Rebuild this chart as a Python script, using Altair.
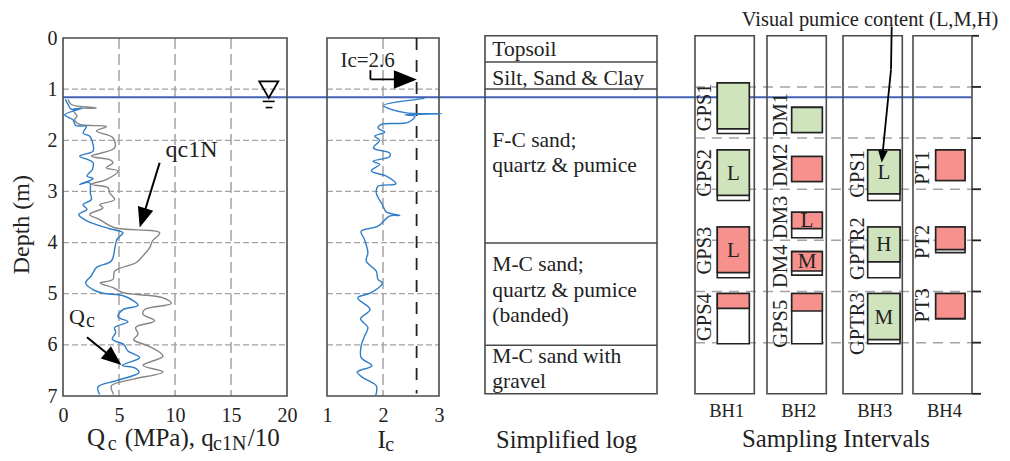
import altair as alt
import pandas as pd

SERIF = "Liberation Serif"
INK = "#222222"
FRAME = "#4a4a4a"
GRID = "#a3a3a3"
BLUE_CURVE = "#2f7cc9"
GRAY_CURVE = "#858585"
WATER = "#4262b4"
GREEN = "#cfe3bd"
RED = "#f6918d"
HEAD = "M0,-1 L0.8,1 L-0.8,1 Z"

# Cone resistance Qc (MPa) against depth (m)
qc_depth = [1.20,1.30,1.39,1.37,1.50,1.60,1.71,1.73,1.86,1.92,2.08,2.21,2.31,2.38,2.44,2.57,2.70,2.75,2.86,2.83,3.03,3.16,3.26,3.35,3.45,3.55,3.65,3.73,3.81,3.91,3.97,4.13,4.36,4.49,4.65,4.79,4.92,4.99,5.05,5.23,5.31,5.45,5.55,5.66,5.76,5.89,5.99,6.12,6.25,6.40,6.45,6.54,6.70,6.82,6.97]
qc_value = [0.21,0.45,0.74,1.73,0.15,0.89,1.13,2.08,1.79,2.38,2.68,2.68,1.49,2.23,2.68,2.62,2.14,2.68,1.49,2.38,2.44,2.53,1.79,2.14,1.40,1.93,2.98,4.17,5.36,4.91,4.76,4.61,4.32,2.98,2.53,2.02,2.68,3.57,5.51,6.70,5.36,4.91,5.80,4.61,4.70,4.40,5.42,5.80,6.85,5.30,6.40,6.79,4.76,3.13,3.27]
# Normalised resistance qc1N / 10 against depth (m)
q1n_depth = [1.20,1.30,1.37,1.40,1.53,1.60,1.69,1.73,1.82,1.95,2.15,2.31,2.38,2.44,2.54,2.60,2.77,2.86,2.93,3.03,3.16,3.26,3.32,3.45,3.55,3.71,3.81,3.97,4.10,4.26,4.39,4.56,4.72,4.79,4.88,4.98,5.08,5.19,5.31,5.40,5.53,5.66,5.79,5.90,6.02,6.22,6.40,6.53,6.67,6.80,6.97]
q1n_value = [0.45,0.74,2.98,0.89,1.25,1.04,1.49,3.87,2.98,4.46,4.61,2.53,4.17,4.46,3.87,4.91,3.87,2.53,4.02,4.17,4.61,3.27,3.57,2.38,3.27,4.61,8.63,7.98,7.74,7.14,6.55,4.61,4.46,3.33,4.46,5.36,8.93,9.67,7.29,7.14,8.18,6.49,6.70,6.31,7.59,8.93,7.14,8.93,6.25,4.32,4.52]
# Soil behaviour index Ic against depth (m)
ic_depth = [1.18,1.20,1.32,1.46,1.48,1.50,1.53,1.65,1.69,1.76,1.84,1.92,2.00,2.15,2.25,2.32,2.41,2.47,2.60,2.70,2.85,2.90,3.03,3.26,3.40,3.47,3.48,3.68,3.78,3.94,4.20,4.36,4.56,4.72,4.79,4.98,5.08,5.31,5.49,5.66,5.83,6.02,6.25,6.41,6.53,6.64,6.80,6.99]
ic_value = [2.74,2.60,2.01,2.39,3.04,2.39,2.57,2.45,1.97,1.91,2.03,1.85,1.94,1.83,2.12,2.12,1.82,1.94,1.79,2.06,2.23,1.91,1.88,1.99,2.06,2.30,2.12,1.91,1.61,1.67,1.73,1.70,1.88,1.91,1.99,1.79,1.55,1.77,1.60,1.73,1.67,1.61,1.61,1.80,1.54,1.64,1.88,1.87]

depth_ticks = [0, 1, 2, 3, 4, 5, 6, 7]
grid_depths = [1, 2, 3, 4, 5, 6]
water_depth = 1.16

log_boundaries = [0, 0.51, 1.04, 4.05, 6.05, 7.0]
log_labels = ["Topsoil", "Silt, Sand & Clay", "F-C sand;", "quartz & pumice", "M-C sand;", "quartz & pumice", "(banded)", "M-C sand with", "gravel"]
log_label_depths = [0.40, 0.97, 2.18, 2.67, 4.60, 5.10, 5.59, 6.39, 6.89]

# Sampling intervals: name, top, bottom of recovered colour, bottom of tube, colour, pumice
BH1 = [("GPS1", 0.92, 1.82, 1.91, GREEN, "", 1.40), ("GPS2", 2.23, 3.12, 3.22, GREEN, "L", 2.68), ("GPS3", 3.74, 4.63, 4.73, RED, "L", 4.20), ("GPS4", 5.04, 5.33, 6.02, RED, "", 5.50)]
BH2 = [("DM1", 1.40, 1.89, 1.89, GREEN, "", 1.54), ("DM2", 2.36, 2.85, 2.85, RED, "", 2.53), ("DM3", 3.45, 3.77, 3.95, RED, "L", 3.55), ("DM4", 4.22, 4.60, 4.68, RED, "M", 4.51), ("GPS5", 5.04, 5.38, 6.02, RED, "", 5.63)]
BH3 = [("GPS1", 2.23, 3.09, 3.22, GREEN, "L", 2.70), ("GPTR2", 3.74, 4.42, 4.73, GREEN, "H", 4.16), ("GPTR3", 5.04, 5.94, 6.02, GREEN, "M", 5.63)]
BH4 = [("PT1", 2.23, 2.83, 2.83, RED, "", 2.58), ("PT2", 3.74, 4.18, 4.24, RED, "", 4.03), ("PT3", 5.04, 5.53, 5.53, RED, "", 5.27)]

H = 358


def xs(domain, rng):
    return alt.Scale(domain=domain, range=rng)


LEFT_Y = alt.Scale(domain=[0, 7], range=[0, H])
RIGHT_Y = alt.Scale(domain=[0, 7], range=[-2.2, H - 2.2])


def enc(xscale, yscale, **extra):
    e = {
        "x": alt.X("x:Q", scale=xscale, axis=None),
        "y": alt.Y("y:Q", scale=yscale, axis=None),
    }
    e.update(extra)
    return e


def text(rows, xscale, yscale, size, align="left", angle=0, baseline="alphabetic", color=INK):
    df = pd.DataFrame(rows, columns=["x", "y", "t"])
    return alt.Chart(df).mark_text(font=SERIF, fontSize=size, align=align, angle=angle, baseline=baseline, color=color).encode(**enc(xscale, yscale, text="t:N"))


def rules(rows, xscale, yscale, color, width, dash=None):
    df = pd.DataFrame(rows, columns=["x", "x2", "y", "y2"])
    kw = {"strokeDash": dash} if dash else {}
    return alt.Chart(df).mark_rule(color=color, strokeWidth=width, **kw).encode(**enc(xscale, yscale, x2="x2:Q", y2="y2:Q"))


def frame(x0, x1, top, bottom, xscale, yscale, stroke=FRAME, width=1.6, fill=None):
    df = pd.DataFrame({"x": [x0], "x2": [x1], "y": [top], "y2": [bottom]})
    kw = {"fill": fill} if fill else {"fillOpacity": 0}
    return alt.Chart(df).mark_rect(stroke=stroke, strokeWidth=width, **kw).encode(**enc(xscale, yscale, x2="x2:Q", y2="y2:Q"))


def head(x, y, xscale, yscale, size, angle):
    df = pd.DataFrame({"x": [x], "y": [y]})
    return alt.Chart(df).mark_point(shape=HEAD, filled=True, size=size, angle=angle, color="black", opacity=1).encode(**enc(xscale, yscale))


def curve(depth, value, xscale, yscale, color, width=1.4):
    df = pd.DataFrame({"x": value, "y": depth, "o": range(len(depth))})
    return alt.Chart(df).mark_line(color=color, strokeWidth=width, interpolate="catmull-rom").encode(**enc(xscale, yscale, order="o:Q"))


def x_axis_layer(values, xscale):
    ticks = pd.DataFrame({"x": values})
    ax = alt.Axis(values=values, labelExpr="'' + datum.value", ticks=False, domain=False, grid=False, title=None, labelFont=SERIF, labelFontSize=20, labelColor=INK, labelPadding=9, labelFlush=False, labelOverlap=False)
    return alt.Chart(ticks).mark_point(opacity=0).encode(x=alt.X("x:Q", scale=xscale, axis=ax), y=alt.value(0))


def y_axis_layer(yscale):
    df = pd.DataFrame({"y": depth_ticks})
    ax = alt.Axis(values=depth_ticks, ticks=False, domain=False, grid=False, title=None, labelFont=SERIF, labelFontSize=20, labelColor=INK, labelPadding=6, labelFlush=False, labelOverlap=False)
    return alt.Chart(df).mark_point(opacity=0).encode(y=alt.Y("y:Q", scale=yscale, axis=ax), x=alt.value(0))


# ---------- Panel 1: Qc, qc1N ----------
X1 = xs([0, 20], [0, 224])
p1 = alt.layer(
    x_axis_layer([0, 5, 10, 15, 20], X1),
    y_axis_layer(LEFT_Y),
    rules([(v, v, 0, 7) for v in [5, 10, 15]], X1, LEFT_Y, GRID, 1.5, [11, 5]),
    rules([(0, 20, d, d) for d in grid_depths], X1, LEFT_Y, GRID, 1.2, [6, 3]),
    rules([(0, 81.1, water_depth, water_depth)], X1, LEFT_Y, WATER, 2),
    frame(0, 20, 0, 7, X1, LEFT_Y),
    curve(q1n_depth, q1n_value, X1, LEFT_Y, GRAY_CURVE),
    curve(qc_depth, qc_value, X1, LEFT_Y, BLUE_CURVE),
    rules([(8.63, 7.11, 2.44, 3.52), (2.14, 4.52, 5.85, 6.27)], X1, LEFT_Y, "black", 2),
    head(7.11, 3.52, X1, LEFT_Y, 400, 197),
    head(4.52, 6.27, X1, LEFT_Y, 400, 129),
    alt.Chart(pd.DataFrame({"x": [18.37], "y": [1.01]})).mark_point(shape="triangle-down", size=361, color="black", strokeWidth=1.8, opacity=1).encode(**enc(X1, LEFT_Y)),
    rules([(17.83, 18.9, 1.24, 1.24), (18.1, 18.7, 1.36, 1.36)], X1, LEFT_Y, "black", 1.6),
    text([(9.15, 2.32, "qc1N")], X1, LEFT_Y, 24),
    text([(0.54, 5.60, "Q")], X1, LEFT_Y, 22),
    text([(2.05, 5.66, "c")], X1, LEFT_Y, 20),
    text([(-3.70, 3.65, "Depth (m)")], X1, LEFT_Y, 24, align="center", angle=270, baseline="middle"),
    text([(2.14, 7.98, "Q"), (5.52, 7.98, "(MPa), q"), (16.5, 7.98, "/10")], X1, LEFT_Y, 25),
    text([(3.99, 8.06, "c"), (13.4, 8.06, "c1N")], X1, LEFT_Y, 20),
).properties(width=264, height=H).resolve_axis(x="independent", y="independent")

# ---------- Panel 2: Ic ----------
X2 = xs([1, 3], [0, 112])
p2 = alt.layer(
    x_axis_layer([1, 2, 3], X2),
    rules([(2, 2, 0, 7)], X2, LEFT_Y, GRID, 1.5, [11, 5]),
    rules([(1, 3, d, d) for d in grid_depths], X2, LEFT_Y, GRID, 1.2, [6, 3]),
    frame(1, 3, 0, 7, X2, LEFT_Y),
    rules([(2.6, 2.6, 0, 6.95)], X2, LEFT_Y, "#222222", 1.8, [12, 10]),
    curve(ic_depth, ic_value, X2, LEFT_Y, BLUE_CURVE),
    rules([(1.775, 1.775, 0.63, 0.81), (1.775, 2.45, 0.81, 0.81)], X2, LEFT_Y, "black", 1.8),
    head(2.40, 0.81, X2, LEFT_Y, 529, 90),
    text([(1.24, 0.56, "Ic=2.6")], X2, LEFT_Y, 21),
    text([(1.90, 8.02, "I")], X2, LEFT_Y, 25),
    text([(2.04, 8.08, "c")], X2, LEFT_Y, 20),
).properties(width=158, height=H).resolve_axis(x="independent", y="independent")

# ---------- Panel 3: Simplified log ----------
X3 = xs([0, 172], [0, 172])
p3 = alt.layer(
    frame(0, 172, 0, 7, X3, RIGHT_Y),
    rules([(0, 172, d, d) for d in log_boundaries[1:-1]], X3, RIGHT_Y, FRAME, 1.5),
    text([(7.3, d, t) for d, t in zip(log_label_depths, log_labels)], X3, RIGHT_Y, 21.5),
    text([(81.5, 8.05, "Simplified log")], X3, RIGHT_Y, 24.5, align="center"),
).properties(width=210, height=H)


# ---------- Panels 4-7: Sampling intervals ----------
def bh_panel(samples, name, w, frame_w, box, name_x, extras=(), pre=()):
    X = xs([0, w], [0, w])
    layers = list(pre)
    layers.append(frame(0, frame_w, 0, 7, X, RIGHT_Y))
    x0, x1 = box
    for nm, top, mid, bot, col, pum, lab_y in samples:
        layers.append(frame(x0, x1, top, bot, X, RIGHT_Y, stroke="#222222", fill="white"))
        layers.append(frame(x0, x1, top, mid, X, RIGHT_Y, stroke="#222222", fill=col))
        layers.append(text([(name_x, lab_y, nm)], X, RIGHT_Y, 20.5, align="center", angle=270, baseline="middle"))
        if pum:
            layers.append(text([((x0 + x1) / 2, (top + mid) / 2 + 0.02, pum)], X, RIGHT_Y, 21, align="center", baseline="middle"))
    layers.append(text([(frame_w / 2 + 2, 7.45, name)], X, RIGHT_Y, 18.5, align="center"))
    layers.extend(extras)
    return alt.layer(*layers).properties(width=w, height=H)


X4 = xs([0, 72], [0, 72])
p4 = bh_panel(BH1, "BH1", 72, 59.3, (22.3, 54.3), 10,
              pre=[rules([(0, 277, d, d) for d in grid_depths], X4, RIGHT_Y, GRID, 1.5, [10, 7])],
              extras=[text([(141, 8.04, "Sampling Intervals")], X4, RIGHT_Y, 24.8, align="center")])
p5 = bh_panel(BH2, "BH2", 76, 59.3, (24.7, 55.3), 13.7)
X6 = xs([0, 70], [0, 70])
p6 = bh_panel(BH3, "BH3", 70, 59.3, (24.7, 57), 15,
              extras=[rules([(48.7, 48, -0.18, 0.66), (48, 39.3, 0.66, 2.36)], X6, RIGHT_Y, "black", 1.8),
                      head(39.3, 2.36, X6, RIGHT_Y, 144, 186),
                      text([(27, -0.19, "Visual pumice content (L,M,H)")], X6, RIGHT_Y, 20.4, align="center")])
X7 = xs([0, 59], [0, 59])
p7 = bh_panel(BH4, "BH4", 59, 59, (22.7, 52), 10,
              extras=[rules([(59, 59 + (7 if d == 0 else 9), d, d) for d in depth_ticks], X7, RIGHT_Y, "#222222", 1.8)])

chart = alt.hconcat(
    p1, p2, p3, p4, p5, p6, p7, spacing=0, bounds="flush",
    autosize=alt.AutoSizeParams(type="none"),
    padding={"left": 55, "top": 30, "right": 939, "bottom": 415},
).configure_view(strokeWidth=0)
chart.save("out.html", embed_options={"renderer": "svg", "actions": False})
